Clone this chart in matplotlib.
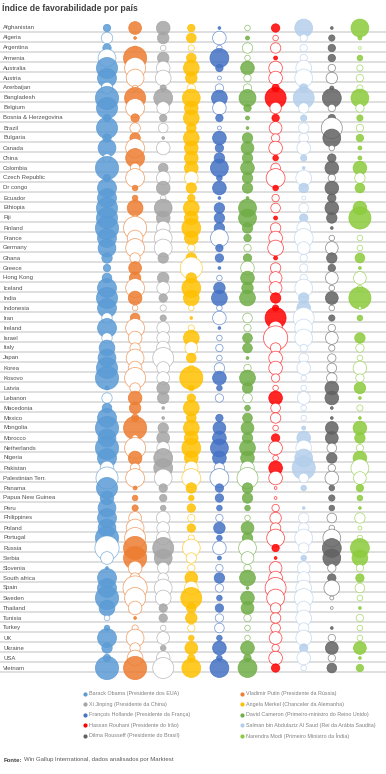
import numpy as np
import matplotlib.pyplot as plt
from matplotlib.colors import to_rgba
from matplotlib.transforms import blended_transform_factory

# indice de favorabilidade liquido (%) - positivo = bolha cheia, negativo = bolha vazia
paises = ["Afghanistan", "Algeria", "Argentina", "Armenia", "Australia", "Austria",
          "Azerbaijan", "Bangladesh", "Belgium", "Bosnia & Herzegovina", "Brazil",
          "Bulgaria", "Canada", "China", "Colombia", "Czech Republic", "Dr congo",
          "Ecuador", "Ethiopia", "Fiji", "Finland", "France", "Germany", "Ghana",
          "Greece", "Hong Kong", "Iceland", "India", "Indonesia", "Iran", "Ireland",
          "Israel", "Italy", "Japan", "Korea", "Kosovo", "Latvia", "Lebanon",
          "Macedonia", "Mexico", "Mongolia", "Morocco", "Netherlands", "Nigeria",
          "Pakistan", "Palestinian Terr.", "Panama", "Papua New Guinea", "Peru",
          "Philippines", "Poland", "Portugal", "Russia", "Serbia", "Slovenia",
          "South africa", "Spain", "Sweden", "Thailand", "Tunisia", "Turkey", "UK",
          "Ukraine", "USA", "Vietnam"]

lideres = ["Barack Obama (Presidente dos EUA)",
           "Vladimir Putin (Presidente da Rússia)",
           "Xi Jinping (Presidente da China)",
           "Angela Merkel (Chanceler da Alemanha)",
           "François Hollande (Presidente da França)",
           "David Cameron (Primeiro-ministro do Reino Unido)",
           "Hassan Rouhani (Presidente do Irão)",
           "Salman bin Abdulaziz Al Saud (Rei da Arábia Saudita)",
           "Dilma Rousseff (Presidente do Brasil)",
           "Narendra Modi (Primeiro Ministro da Índia)"]

cores = ["#5B9BD5", "#ED7D31", "#A5A5A5", "#FFC000", "#4472C4",
         "#70AD47", "#FF0000", "#B4CFEB", "#626262", "#8CCB3C"]

nan = np.nan

obama = [7, -17, 9, -41, 57, 46, -17, 69, 57, 7, 57, 9, 41, -9, 69, 7, 46, 46, 57, 57,
         69, 46, 41, 14, 7, 12, 46, 57, 46, -14, 46, -14, 32, 41, 57, 69, 2, -14, 12, 46,
         69, 41, 69, 46, -24, -63, 57, 24, 41, 46, 41, 69, -76, -21, 1, 46, 46, 69, 32, -4,
         4, 46, 14, 7, 69]
putin = [21, 1, -2, 69, -57, -41, -4, 57, -46, 9, -14, 14, -46, 46, -12, -46, 4, 4, 32, -4,
         -69, -32, -46, -14, 21, 17, -46, 24, -4, 12, -46, -24, -14, -41, -24, -57, -14, 24, 17, 7,
         69, -5, -57, 24, -12, -46, 2, 4, 5, -21, -41, -57, 69, 69, -24, -14, -76, -57, -24, 1,
         -5, -41, -14, -32, 69]
xi = [24, 17, -4, 17, -24, -32, 5, 46, -21, 7, -12, 1, -24, nan, 12, -24, 24, -4, 41, 24,
      -24, -41, -41, 14, nan, 17, -21, 9, -5, 5, -21, -21, -24, -57, -21, -21, 21, 17, 1, 1,
      14, 21, -21, 46, 46, -41, 9, 7, 4, -24, -21, -24, 57, 41, -17, -14, -41, -32, 9, 9,
      -4, -21, 4, -24, -57]
merkel = [7, 12, -5, 12, 32, 17, -9, 41, 24, 32, 12, 32, 24, 24, 24, -24, 14, 7, 32, 24,
          46, 24, -7, 14, -63, 14, 46, 32, -4, 1, -5, 32, -21, 12, -4, 69, 4, 9, 32, 12,
          32, 24, 46, 24, -24, -46, 14, 4, 9, -7, 9, -5, -41, -14, -7, 21, -24, 57, 12, 17,
          -7, 4, 21, 7, 46]
hollande = [1, -24, -4, 46, 7, -2, -9, 32, -24, 7, -2, 24, 9, 14, 41, 4, 24, 1, 14, 14,
            14, -41, 7, 9, 1, -4, 17, 32, -4, -24, 1, -4, -7, -4, -14, 24, 4, -9, nan, 7,
            21, 24, 41, 24, -14, -46, 9, 9, 4, -7, 17, 4, -24, 2, -7, 14, -9, 4, 9, -9,
            -12, 4, 24, 4, 46]
cameron = [-4, 2, -14, -4, 24, -7, -9, 37, 7, 2, 1, 14, 21, 14, 24, 14, 14, 1, 41, 41,
           14, 7, -7, 9, -24, 24, 17, 32, nan, -12, -7, 12, 12, 1, -7, 32, 14, -12, 4, 12,
           21, 14, 32, 24, -24, -57, 14, 14, 4, -4, 21, 14, -41, -21, -7, 32, 1, 24, 21, -7,
           -4, -4, 24, 7, 46]
rouhani = [9, -4, -14, 2, -24, -24, 7, 57, -17, 7, -21, -9, -24, 4, -12, -46, 4, -7, -12, 2,
           -14, -24, -32, 2, -14, -21, -21, 14, 5, 57, -24, -76, -14, -24, -24, -9, -4, 24, -12, -14,
           -4, 9, -24, -4, 24, -24, -1, -1, -7, -17, -14, -41, 7, 1, -21, -24, -57, -41, -14, -14,
           -12, -21, -7, -24, 9]
salman = [41, -7, -7, -7, -32, -41, 9, 57, -14, 5, -14, -12, -24, 5, 1, -32, 12, -2, -12, 9,
          -24, -46, -21, -7, -9, -7, -41, 14, 24, -57, -41, -41, -7, -12, -24, -4, -4, -21, -4, -4,
          2, 24, -32, 41, 69, -12, 4, nan, 1, -14, -14, -41, -14, 4, -21, -21, -32, -46, -24, -32,
          -14, -32, 9, -24, -4]
dilma = [1, 5, 7, 7, -7, -17, 2, 46, -7, 7, -57, 41, -4, 9, 24, -7, 24, 9, 24, 14,
         1, -4, -21, 14, 7, -21, -4, 21, -4, 5, -7, -21, -5, -9, -12, -14, 24, 24, 1, 1,
         21, 21, -12, 14, -7, -24, 4, 5, 4, -12, -4, -41, 46, 41, -9, 9, -32, -2, -1, nan,
         1, -7, 21, -7, 12]
modi = [41, 2, -1, 4, -5, -7, -5, 41, -9, 5, -7, 7, 2, 2, 24, -14, 12, nan, 24, 63,
        nan, -4, -4, 12, 1, -21, -4, 63, -1, 4, nan, 14, -9, -4, -24, -9, 17, 1, -5, 1,
        24, 14, -7, 24, -41, -21, 7, 4, 1, -14, -2, -4, 46, 32, -7, 9, -12, -4, 1, -7,
        -4, -4, 21, 1, 7]

valores = [obama, putin, xi, merkel, hollande, cameron, rouhani, salman, dilma, modi]

# figura 386x774 px
W, H = 386, 774
fig = plt.figure(figsize=(W / 100, H / 100), dpi=100)
ax = fig.add_axes([0, 0, 1, 1])
x0, dx = 107, 28.1   # posicao da 1a coluna e espacamento (px)
y0, dy = 28, 10.0    # posicao da 1a linha e espacamento (px)
ax.set_xlim(-x0 / dx, (W - x0) / dx)
ax.set_ylim((H - y0) / dy, -y0 / dy)
ax.axis('off')

linhas = np.arange(len(paises))
for y in linhas:
    ax.axhline(y + 0.42, color='#d6d6d6', lw=1.1, zorder=0)

# bolhas: area proporcional ao valor absoluto
escala = 4.0
for i, (vals, cor) in enumerate(zip(valores, cores)):
    v = np.array(vals, dtype=float)
    ok = ~np.isnan(v)
    fc = [to_rgba(cor, 0.85) if val > 0 else (1, 1, 1, 1) for val in v[ok]]
    ec = [to_rgba(cor, 0.9) if val > 0 else to_rgba(cor, 0.7) for val in v[ok]]
    ax.scatter(np.full(ok.sum(), i), linhas[ok], s=escala * np.abs(v[ok]),
               c=fc, edgecolors=ec, linewidths=0.55, zorder=2)

trans = blended_transform_factory(ax.transAxes, ax.transData)
for y, p in zip(linhas, paises):
    ax.text(3 / W, y, p, transform=trans, fontsize=4.3, color='#505050',
            family='Liberation Sans', va='center', ha='left')

fig.text(2 / W, 1 - 8 / H, "Índice de favorabilidade por país", fontsize=6.2,
         fontweight='bold', color='#404040', family='Liberation Sans', va='center')

# legenda
for k, (nome, cor) in enumerate(zip(lideres, cores)):
    lx = [85, 242][k % 2] / W
    ly = 1 - (693.5 + (k // 2) * 10.6) / H
    ax.scatter([lx], [ly], s=4, color=cor, transform=ax.transAxes, zorder=3)
    ax.text(lx + 4 / W, ly, nome, transform=ax.transAxes, fontsize=3.9,
            color='#808080', family='Liberation Sans', va='center')

fig.text(4 / W, 1 - 760 / H, "Fonte:", fontsize=4.3, fontweight='bold',
         color='#404040', family='Liberation Sans', va='center')
fig.text(24 / W, 1 - 760 / H, "Win Gallup International, dados analisados por Marktest",
         fontsize=4.3, color='#595959', family='Liberation Sans', va='center')

fig.savefig("out.png", dpi=100, facecolor='white')
